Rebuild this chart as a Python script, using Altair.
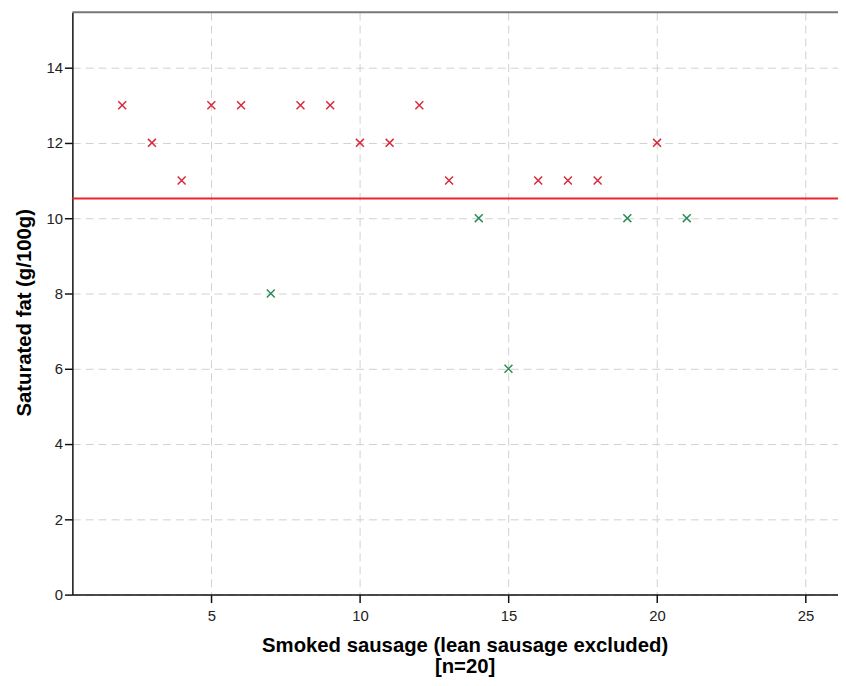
import altair as alt
import pandas as pd

# ---- data ----
sample_no = [2, 3, 4, 5, 6, 7, 8, 9, 10, 11, 12, 13, 14, 15, 16, 17, 18, 19, 20, 21]
sat_fat = [13, 12, 11, 13, 13, 8, 13, 13, 12, 12, 13, 11, 10, 6, 11, 11, 11, 10, 12, 10]
threshold = [10.52]
x_ticks = [5, 10, 15, 20, 25]
y_ticks = [0, 2, 4, 6, 8, 10, 12, 14]
x_title = ["Smoked sausage (lean sausage excluded)", "[n=20]"]
y_title = "Saturated fat (g/100g)"
groups = ["above", "below"]
group_colors = ["#d8283a", "#2e8b57"]

df = pd.DataFrame({"n": sample_no, "fat": sat_fat})
df["grp"] = ["above" if v > threshold[0] else "below" for v in sat_fat]
thr_df = pd.DataFrame({"t": threshold})

W, H = 773, 588
FONT = "Liberation Sans"

xscale = alt.Scale(domain=[0.323, 26.09], nice=False, zero=False)
yscale = alt.Scale(domain=[0, 15.47], nice=False, zero=True)

x_axis = alt.Axis(values=x_ticks, title=x_title, labelPadding=6,
                  titlePadding=12, titleLineHeight=22, titleX=396)
y_axis = alt.Axis(values=y_ticks, title=y_title, labelPadding=2,
                  titlePadding=12, titleY=303)

points = alt.Chart(df).mark_point(
    shape="M-1,-1L1,1M-1,1L1,-1", filled=False, size=64, strokeWidth=1.5, opacity=1
).encode(
    x=alt.X("n:Q", scale=xscale, axis=x_axis),
    y=alt.Y("fat:Q", scale=yscale, axis=y_axis),
    color=alt.Color("grp:N", scale=alt.Scale(domain=groups, range=group_colors), legend=None),
)

rule = alt.Chart(thr_df).mark_rule(color="#e8262c", strokeWidth=2).encode(
    y=alt.Y("t:Q", scale=yscale, axis=y_axis)
)

frame = alt.Chart(thr_df).mark_rule(color="#777777", strokeWidth=2).encode(
    y=alt.value(0), x=alt.value(0), x2=alt.value(W)
)

chart = alt.layer(points, rule, frame).properties(
    width=W, height=H,
    autosize=alt.AutoSizeParams(type="none"),
    padding={"left": 65, "top": 1, "right": 0, "bottom": 89},
).configure_view(stroke=None).configure_axis(
    domainColor="#111111", domainWidth=1.5,
    tickColor="#111111", tickWidth=1.5, tickSize=8,
    grid=True, gridColor="#d0d0d0", gridDash=[8, 5], gridWidth=1,
    labelFont=FONT, labelFontSize=15, labelColor="#222222",
    titleFont=FONT, titleFontSize=20.5, titleFontWeight="bold", titleColor="#000000",
)

chart.save("out.html", embed_options={"renderer": "svg", "actions": False})
